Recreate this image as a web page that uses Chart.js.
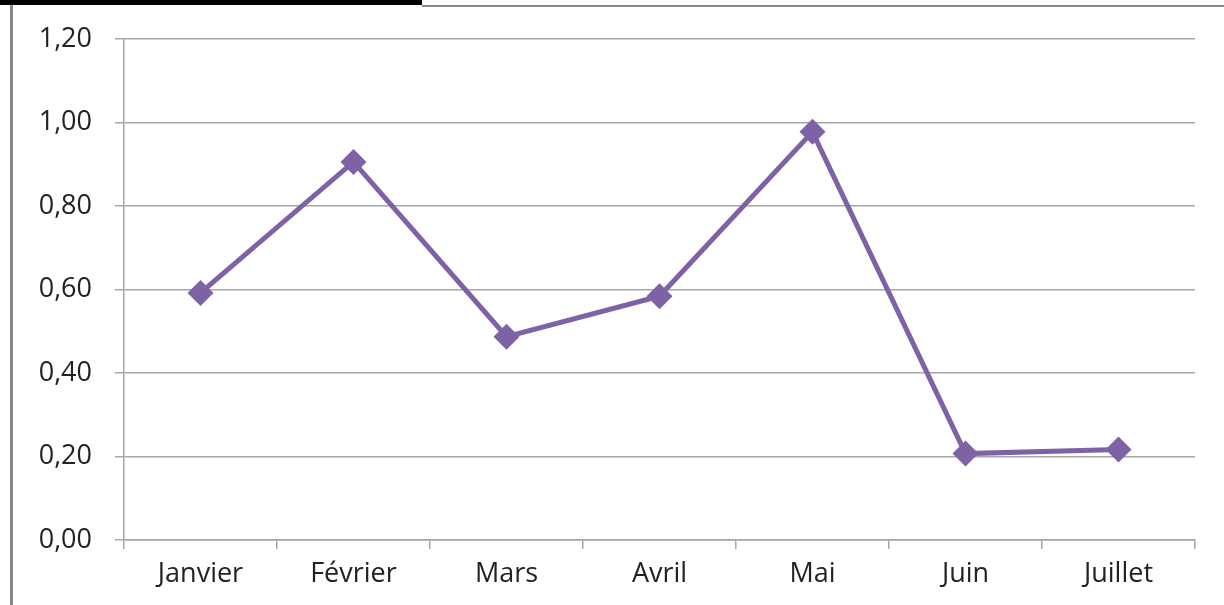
<!DOCTYPE html>
<html>
<head>
<meta charset="utf-8">
<script src="https://cdn.jsdelivr.net/npm/chart.js@4/dist/chart.umd.min.js"></script>
<style>
  html, body { margin: 0; padding: 0; background: #fff; }
  #wrap { position: relative; width: 1224px; height: 605px; overflow: hidden; }
  #topBlack { position: absolute; left: 0; top: 0; width: 422px; height: 5px; background: #000; }
  #topGray { position: absolute; left: 422px; top: 5px; width: 802px; height: 2px; background: #888; }
  #leftGray { position: absolute; left: 10px; top: 5px; width: 3px; height: 600px; background: #888; }
  canvas { position: absolute; left: 0; top: 0; }
</style>
</head>
<body>
<div id="wrap">
  <canvas id="lineChart" width="1224" height="605"></canvas>
  <div id="topBlack"></div>
  <div id="topGray"></div>
  <div id="leftGray"></div>
</div>
<script>
const months = ['Janvier', 'Février', 'Mars', 'Avril', 'Mai', 'Juin', 'Juillet'];
const values = [0.592, 0.906, 0.487, 0.584, 0.978, 0.207, 0.217];
const yTicks = [0, 0.2, 0.4, 0.6, 0.8, 1.0, 1.2];

const purple = '#7F62A6';
const gridGray = '#a6a6a6';
const textColor = '#222';

const ctx = document.getElementById('lineChart').getContext('2d');

new Chart(ctx, {
    type: 'line',
    data: {
        labels: months,
        datasets: [{
            data: values,
            borderColor: purple,
            backgroundColor: purple,
            borderWidth: 5,
            pointStyle: 'rectRot',
            pointRadius: 13,
            pointHoverRadius: 13,
            pointBorderWidth: 0,
            tension: 0
        }]
    },
    options: {
        responsive: false,
        animation: false,
        layout: { padding: { top: 37, right: 29, left: 0, bottom: 0 } },
        plugins: {
            legend: { display: false },
            tooltip: { enabled: false }
        },
        scales: {
            x: {
                offset: true,
                afterFit: (scale) => { scale.height = 65; },
                grid: {
                    offset: true,
                    drawOnChartArea: false,
                    drawTicks: true,
                    tickLength: 9,
                    color: gridGray,
                    lineWidth: 1.5
                },
                border: { color: gridGray, width: 1.5 },
                ticks: {
                    color: textColor,
                    padding: 9,
                    font: { family: 'Open Sans', size: 27 },
                    maxRotation: 0
                }
            },
            y: {
                min: 0,
                max: 1.2,
                afterFit: (scale) => { scale.width = 124; },
                afterBuildTicks: (scale) => { scale.ticks = yTicks.map(v => ({ value: v })); },
                grid: {
                    color: gridGray,
                    lineWidth: 1.5,
                    tickLength: 9
                },
                border: { color: gridGray, width: 1.5 },
                ticks: {
                    color: textColor,
                    padding: 23,
                    font: { family: 'Open Sans', size: 27 },
                    callback: (v) => v.toFixed(2).replace('.', ',')
                }
            }
        }
    }
});
</script>
</body>
</html>
